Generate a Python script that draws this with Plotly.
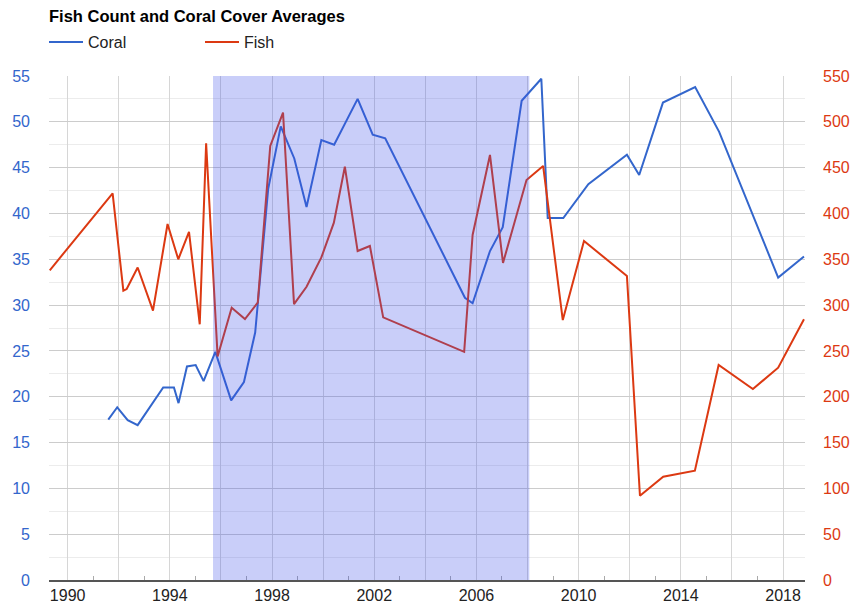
import plotly.graph_objects as go

title = "Fish Count and Coral Cover Averages"

coral_years = [1991.59, 1991.94, 1992.35, 1992.74, 1993.74, 1994.16, 1994.34, 1994.67, 1995.01, 1995.32,
               1995.78, 1996.40, 1996.90, 1997.34, 1997.85, 1998.34, 1998.87, 1999.35, 1999.93, 2000.43,
               2001.35, 2001.94, 2002.43, 2005.55, 2005.85, 2006.53, 2007.03, 2007.77, 2008.54, 2008.79,
               2009.40, 2010.38, 2011.89, 2012.37, 2013.30, 2014.56, 2015.50, 2017.81, 2018.82]
coral_values = [17.5, 18.85, 17.45, 16.9, 21.0, 21.0, 19.3, 23.3, 23.45, 21.7,
                24.9, 19.6, 21.6, 27.0, 42.7, 49.5, 46.0, 40.7, 48.0, 47.5,
                52.5, 48.6, 48.2, 30.8, 30.2, 35.9, 38.5, 52.3, 54.7, 39.5,
                39.5, 43.2, 46.4, 44.2, 52.1, 53.8, 48.9, 33.0, 35.3]

fish_years = [1989.30, 1991.76, 1992.18, 1992.31, 1992.74, 1993.34, 1993.91, 1994.33, 1994.75, 1995.17,
              1995.42, 1995.87, 1996.42, 1996.94, 1997.44, 1997.93, 1998.43, 1998.86, 1999.35, 1999.93,
              2000.42, 2000.85, 2001.35, 2001.83, 2002.35, 2005.52, 2005.85, 2006.53, 2007.04, 2007.96,
              2008.61, 2009.38, 2010.21, 2011.89, 2012.40, 2013.31, 2014.55, 2015.48, 2016.82, 2017.81,
              2018.82]
fish_values = [338, 422, 315.7, 317.5, 341, 294, 388.5, 350, 380, 279,
               476.5, 244, 297, 284.8, 302.6, 473.6, 510, 301, 320, 352,
               390, 451, 359, 364.5, 286.6, 249, 376.5, 463.8, 346, 436.5,
               451.8, 283.7, 370, 331.7, 92, 112.7, 119.3, 234.6, 208.4, 231.7,
               284.5]

shade_start = 1995.69
shade_end = 2008.07

major_years = list(range(1990, 2019, 2))
major_labels = [str(y) if y % 4 == 2 else "" for y in major_years]
minor_years = list(range(1989, 2019, 2))
left_ticks = list(range(0, 56, 5))
right_ticks = list(range(0, 551, 50))

FONT = "Arial, Liberation Sans, sans-serif"
BLUE = "#3366cc"
RED = "#dc3912"

W, H = 851, 608

fig = go.Figure()
fig.add_trace(go.Scatter(x=coral_years, y=coral_values, name="Coral", mode="lines",
                         line=dict(color=BLUE, width=2)))
fig.add_trace(go.Scatter(x=fish_years, y=fish_values, name="Fish", mode="lines",
                         line=dict(color=RED, width=2), yaxis="y2"))

fig.add_shape(type="rect", xref="x", yref="y domain", x0=shade_start, x1=shade_end, y0=0, y1=1,
              fillcolor="rgba(60,80,235,0.28)", line=dict(width=0), layer="above")

fig.update_layout(
    width=W, height=H,
    margin=dict(l=49, r=46, t=76, b=28, autoexpand=False),
    paper_bgcolor="white", plot_bgcolor="white",
    font=dict(family=FONT, size=16, color="#222"),
    title=dict(text="<b>" + title + "</b>", x=49 / W, xref="container", xanchor="left",
               y=1 - 16 / H, yanchor="middle", pad=dict(l=0, r=0, t=0, b=0),
               font=dict(size=16.5, color="#000")),
    legend=dict(orientation="h", xref="container", yref="container",
                x=44 / W, xanchor="left", y=1 - 42 / H, yanchor="middle",
                font=dict(size=16, color="#222"), entrywidth=107, itemwidth=34,
                bgcolor="rgba(0,0,0,0)"),
    showlegend=True,
    xaxis=dict(range=[1989.27, 2018.86], tickvals=major_years, ticktext=major_labels,
               automargin=False,
               showgrid=True, gridcolor="#d6d6d6", gridwidth=1, zeroline=False,
               showline=True, linecolor="#555", linewidth=1.5, ticks="",
               tickfont=dict(size=16, color="#222"),
               minor=dict(tickvals=minor_years, ticks="inside", ticklen=4, tickcolor="#aaa",
                          showgrid=False)),
    yaxis=dict(range=[0, 55], tickvals=left_ticks, showgrid=True, gridcolor="#cccccc",
               automargin=False,
               zeroline=False, ticks="", ticklabelstandoff=18,
               tickfont=dict(size=16, color=BLUE),
               minor=dict(dtick=2.5, showgrid=True, gridcolor="#ececec")),
    yaxis2=dict(range=[0, 550], tickvals=right_ticks, overlaying="y", side="right",
                automargin=False,
                showgrid=False, zeroline=False, ticks="", ticklabelstandoff=17,
                tickfont=dict(size=16, color=RED)),
)

fig.write_html("out.html", config={"displayModeBar": False},
               post_script="document.body.style.margin='0';document.body.style.overflow='hidden';")
